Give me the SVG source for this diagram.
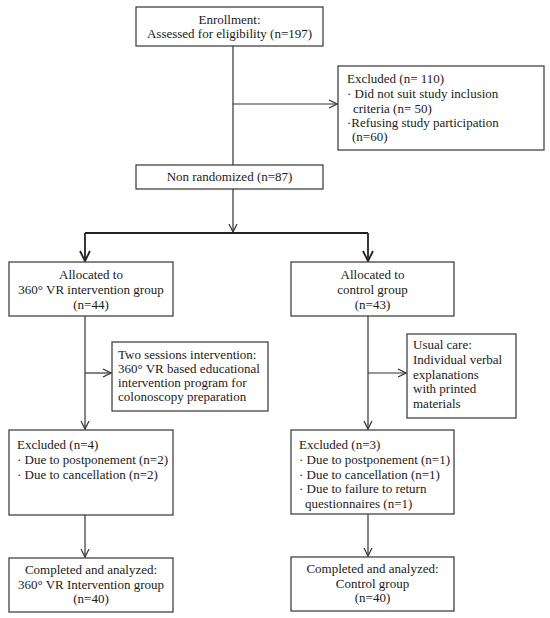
<svg xmlns="http://www.w3.org/2000/svg" width="550" height="618" viewBox="0 0 550 618">
<style>
.box{fill:#fff;stroke:#333;stroke-width:1.2}
text{font-family:"Liberation Serif","DejaVu Serif",serif;font-size:13px;fill:#1a1a1a}
.c{text-anchor:middle}
.ln{fill:none;stroke:#333;stroke-width:1.2}
.lnb{fill:none;stroke:#222;stroke-width:1.8}
</style>
<defs>
<marker id="ah" markerWidth="10" markerHeight="10" refX="9" refY="5" orient="auto" markerUnits="userSpaceOnUse">
<path d="M1,1 L9,5 L1,9" fill="none" stroke="#333" stroke-width="1.2"/>
</marker>
<marker id="ahb" markerWidth="12" markerHeight="12" refX="11" refY="6" orient="auto" markerUnits="userSpaceOnUse">
<path d="M1,1 L11,6 L1,11" fill="none" stroke="#222" stroke-width="1.8"/>
</marker>
</defs>
<g id="connectors">
<line class="ln" x1="233" y1="46" x2="233" y2="165"/>
<line class="ln" x1="233" y1="104" x2="337" y2="104" marker-end="url(#ah)"/>
<line class="ln" x1="233" y1="189" x2="233" y2="232" marker-end="url(#ah)"/>
<line class="lnb" x1="85" y1="233" x2="368" y2="233"/>
<line class="lnb" x1="85" y1="233" x2="85" y2="261" marker-end="url(#ahb)"/>
<line class="lnb" x1="368" y1="233" x2="368" y2="261" marker-end="url(#ahb)"/>
<line class="ln" x1="85" y1="316" x2="85" y2="429" marker-end="url(#ah)"/>
<line class="ln" x1="85" y1="373" x2="111" y2="373" marker-end="url(#ah)"/>
<line class="ln" x1="368" y1="316" x2="368" y2="429" marker-end="url(#ah)"/>
<line class="ln" x1="368" y1="373" x2="406" y2="373" marker-end="url(#ah)"/>
<line class="ln" x1="85" y1="515" x2="85" y2="557" marker-end="url(#ah)"/>
<line class="ln" x1="368" y1="514" x2="368" y2="556" marker-end="url(#ah)"/>
</g>
<g id="enrollment">
<rect class="box" x="136" y="7" width="187" height="39"/>
<text class="c" x="229.5" y="24">Enrollment:</text>
<text class="c" x="229.5" y="38">Assessed for eligibility (n=197)</text>
</g>
<g id="excluded-top">
<rect class="box" x="338" y="66" width="206" height="84"/>
<text x="347" y="83">Excluded (n= 110)</text>
<text x="347" y="98">· Did not suit study inclusion</text>
<text x="353" y="113">criteria (n= 50)</text>
<text x="347" y="127">·Refusing study participation</text>
<text x="352" y="141">(n=60)</text>
</g>
<g id="nonrandomized">
<rect class="box" x="136" y="165" width="187" height="24"/>
<text class="c" x="229.5" y="181">Non randomized (n=87)</text>
</g>
<g id="alloc-vr">
<rect class="box" x="9" y="262" width="164" height="54"/>
<text class="c" x="91" y="279">Allocated to</text>
<text class="c" x="91" y="294">360° VR intervention group</text>
<text class="c" x="91" y="309">(n=44)</text>
</g>
<g id="alloc-control">
<rect class="box" x="291" y="262" width="163" height="54"/>
<text class="c" x="372.5" y="279">Allocated to</text>
<text class="c" x="372.5" y="294">control group</text>
<text class="c" x="372.5" y="309">(n=43)</text>
</g>
<g id="intervention">
<rect class="box" x="112" y="342" width="156" height="69"/>
<text x="118" y="359">Two sessions intervention:</text>
<text x="118" y="373">360° VR based educational</text>
<text x="118" y="387">intervention program for</text>
<text x="118" y="401">colonoscopy preparation</text>
</g>
<g id="usual-care">
<rect class="box" x="407" y="334" width="109" height="84"/>
<text x="413" y="349">Usual care:</text>
<text x="413" y="364">Individual verbal</text>
<text x="413" y="379">explanations</text>
<text x="413" y="393">with printed</text>
<text x="413" y="408">materials</text>
</g>
<g id="excluded-vr">
<rect class="box" x="9" y="430" width="164" height="85"/>
<text x="17" y="449">Excluded (n=4)</text>
<text x="17" y="464">· Due to postponement (n=2)</text>
<text x="17" y="479">· Due to cancellation (n=2)</text>
</g>
<g id="excluded-control">
<rect class="box" x="291" y="430" width="163" height="84"/>
<text x="299" y="449">Excluded (n=3)</text>
<text x="299" y="464">· Due to postponement (n=1)</text>
<text x="299" y="479">· Due to cancellation (n=1)</text>
<text x="299" y="493">· Due to failure to return</text>
<text x="305" y="508">questionnaires (n=1)</text>
</g>
<g id="completed-vr">
<rect class="box" x="9" y="558" width="164" height="54"/>
<text class="c" x="91" y="574">Completed and analyzed:</text>
<text class="c" x="91" y="589">360° VR Intervention group</text>
<text class="c" x="91" y="603">(n=40)</text>
</g>
<g id="completed-control">
<rect class="box" x="291" y="557" width="163" height="54"/>
<text class="c" x="372.5" y="573">Completed and analyzed:</text>
<text class="c" x="372.5" y="588">Control group</text>
<text class="c" x="372.5" y="602">(n=40)</text>
</g>
</svg>
